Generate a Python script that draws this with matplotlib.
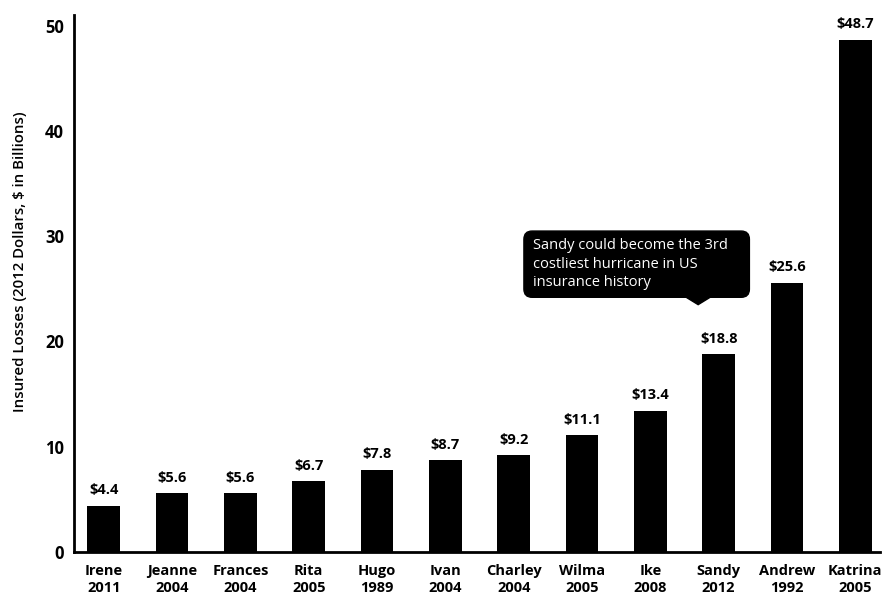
import matplotlib.pyplot as plt
from matplotlib.patches import FancyBboxPatch, Polygon

plt.rcParams['font.family'] = ['Open Sans', 'DejaVu Sans']

storms = ['Irene', 'Jeanne', 'Frances', 'Rita', 'Hugo', 'Ivan', 'Charley',
          'Wilma', 'Ike', 'Sandy', 'Andrew', 'Katrina']
years = ['2011', '2004', '2004', '2005', '1989', '2004', '2004',
         '2005', '2008', '2012', '1992', '2005']
losses = [4.4, 5.6, 5.6, 6.7, 7.8, 8.7, 9.2, 11.1, 13.4, 18.8, 25.6, 48.7]

fig = plt.figure(figsize=(8.87, 5.94), dpi=100)
ax = fig.add_axes([0.083, 0.071, 0.909, 0.903])

x = range(len(storms))
ax.bar(x, losses, width=0.48, color='black')

for i, v in zip(x, losses):
    ax.text(i, v + 0.8, f'${v:.1f}', ha='center', va='bottom',
            fontsize=10.5, fontweight='bold')

ax.set_xlim(-0.44, 11.36)
ax.set_ylim(0, 51)
ax.set_yticks([0, 10, 20, 30, 40, 50])
ax.set_xticks(list(x))
ax.set_xticklabels([f'{s}\n{y}' for s, y in zip(storms, years)],
                   fontsize=10.5, fontweight='bold', linespacing=1.2)
ax.tick_params(axis='x', length=0, pad=9)
ax.tick_params(axis='y', length=0, pad=7)
for lbl in ax.get_yticklabels():
    lbl.set_fontweight('bold')
    lbl.set_fontsize(12)
ax.set_ylabel('Insured Losses (2012 Dollars, $ in Billions)',
              fontsize=10.8, fontweight='semibold')
ax.yaxis.set_label_coords(-0.058, 0.54)

for side in ['top', 'right']:
    ax.spines[side].set_visible(False)
for side in ['left', 'bottom']:
    ax.spines[side].set_linewidth(2)

# callout box over Sandy
box = FancyBboxPatch((6.15, 24.2), 3.3, 6.3,
                     boxstyle='round,pad=0,rounding_size=0.12',
                     mutation_aspect=6.5, facecolor='black',
                     edgecolor='black', clip_on=False)
ax.add_patch(box)
ax.add_patch(Polygon([[8.5, 24.3], [8.9, 24.3], [8.7, 23.5]],
                     closed=True, color='black'))
ax.text(6.28, 29.8, 'Sandy could become the 3rd\ncostliest hurricane in US\ninsurance history',
        color='white', fontsize=10.5, va='top', ha='left', linespacing=1.3)

fig.savefig('out.png', dpi=100)
